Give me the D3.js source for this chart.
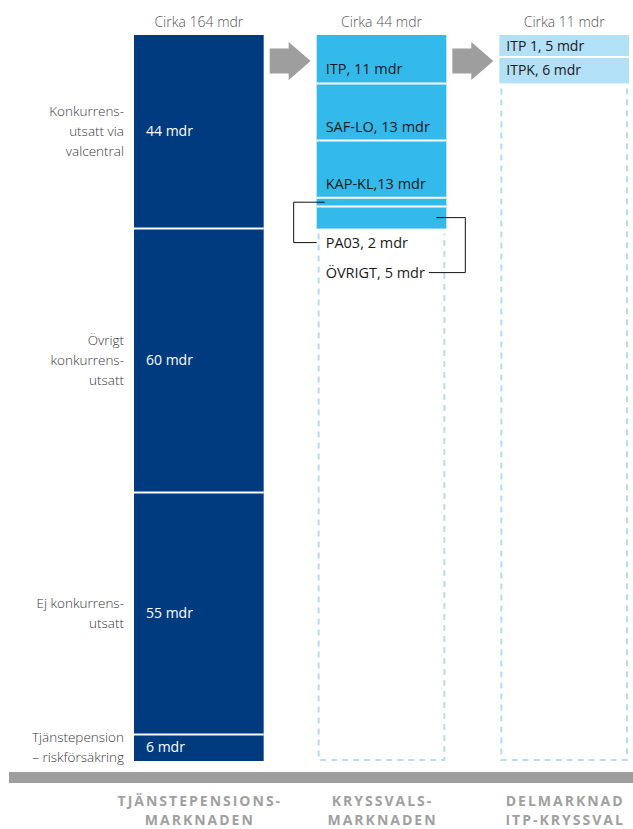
<!DOCTYPE html>
<html><head><meta charset="utf-8">
<script src="https://cdn.jsdelivr.net/npm/d3@7/dist/d3.min.js"></script>
<style>
body{margin:0;background:#fff;}
svg text{font-family:"Open Sans","Noto Sans",sans-serif;}
</style></head>
<body><svg id="c" width="633" height="829"></svg>
<script>
// ---- data ----
const columns = ["TJÄNSTEPENSIONSMARKNADEN","KRYSSVALSMARKNADEN","DELMARKNAD ITP-KRYSSVAL"];
const columnTitles = [["TJÄNSTEPENSIONS-","MARKNADEN"],["KRYSSVALS-","MARKNADEN"],["DELMARKNAD","ITP-KRYSSVAL"]];
const totalLabels = ["Cirka 164 mdr","Cirka 44 mdr","Cirka 11 mdr"];

const col1Categories = [["Konkurrens-","utsatt via","valcentral"],["Övrigt","konkurrens-","utsatt"],["Ej konkurrens-","utsatt"],["Tjänstepension","– riskförsäkring"]];
const col1Values = [44,60,55,6];

const col2Categories = ["ITP","SAF-LO","KAP-KL","PA03","ÖVRIGT"];
const col2Values = [11,13,13,2,5];
const col2Labels = ["ITP, 11 mdr","SAF-LO, 13 mdr","KAP-KL,13 mdr","PA03, 2 mdr","ÖVRIGT, 5 mdr"];

const col3Categories = ["ITP 1","ITPK"];
const col3Values = [5,6];
const col3Labels = ["ITP 1, 5 mdr","ITPK, 6 mdr"];

// ---- layout ----
const svg = d3.select("#c");
const total = d3.sum(col1Values);
const y = d3.scaleLinear().domain([0,total]).range([35,761]);
const x = d3.scaleBand().domain(columns).range([134,629]).paddingInner(0.29);
const bw = x.bandwidth();

const navy = "#003b80", cyan = "#33b9ea", pale = "#b2e0f7", dash = "#b5dcf4";

function stack(vals){let s=0;return vals.map(v=>{const r=[s,s+v];s+=v;return r;});}

// column 1
const s1 = stack(col1Values);
const x1 = x(columns[0]);
svg.append("g").selectAll("rect").data(s1).join("rect")
  .attr("x",x1).attr("width",bw)
  .attr("y",d=>y(d[0])).attr("height",d=>y(d[1])-y(d[0]))
  .attr("fill",navy);
svg.append("g").selectAll("line").data(s1.slice(1)).join("line")
  .attr("x1",x1).attr("x2",x1+bw).attr("y1",d=>y(d[0])).attr("y2",d=>y(d[0]))
  .attr("stroke","#fff").attr("stroke-width",2);
svg.append("g").selectAll("text").data(s1).join("text")
  .attr("x",x1+12).attr("y",d=>(y(d[0])+y(d[1]))/2+4.5)
  .attr("fill","#fff").attr("font-size",14).attr("font-weight",400)
  .text((d,i)=>col1Values[i]+" mdr");
// left category labels
col1Categories.forEach((lines,i)=>{
  const cy=(y(s1[i][0])+y(s1[i][1]))/2;
  const lh=20; const n=lines.length;
  const t=svg.append("text").attr("text-anchor","end").attr("font-size",13.5)
    .attr("font-weight",300).attr("fill","#3a3a3a");
  lines.forEach((l,j)=>t.append("tspan").attr("x",124).attr("y",cy+4.5+(j-(n-1)/2)*lh).text(l));
});

// column 2
const s2 = stack(col2Values);
const x2 = x(columns[1]);
const sum2 = d3.sum(col2Values);
svg.append("g").selectAll("rect").data(s2).join("rect")
  .attr("x",x2).attr("width",bw)
  .attr("y",d=>y(d[0])).attr("height",d=>y(d[1])-y(d[0]))
  .attr("fill",cyan);
svg.append("g").selectAll("line").data(s2.slice(1)).join("line")
  .attr("x1",x2).attr("x2",x2+bw).attr("y1",d=>y(d[0])).attr("y2",d=>y(d[0]))
  .attr("stroke","#fff").attr("stroke-width",2);
svg.append("g").selectAll("text").data(s2.slice(0,3)).join("text")
  .attr("x",x2+9).attr("y",d=>y(d[1])-9)
  .attr("fill","#1a1a1a").attr("font-size",14.5)
  .text((d,i)=>col2Labels[i]);
// dashed remainder
function dashed(xl,top){
  svg.append("path")
    .attr("d",`M${xl+2},${top}V${y(total)-1}H${xl+bw-2}V${top}`)
    .attr("fill","none").attr("stroke",dash).attr("stroke-width",2)
    .attr("stroke-dasharray","6,5");
}
dashed(x2,y(sum2)+5);
// PA03 / ÖVRIGT labels with connectors
const pa = svg.append("text").attr("x",x2+9).attr("y",y(sum2)+14+5)
  .attr("fill","#1a1a1a").attr("font-size",14.5).text(col2Labels[3]);
const ov = svg.append("text").attr("x",x2+9).attr("y",y(sum2)+44+5)
  .attr("fill","#1a1a1a").attr("font-size",14.5).text(col2Labels[4]);
const paMid=(y(s2[3][0])+y(s2[3][1]))/2, ovMid=(y(s2[4][0])+y(s2[4][1]))/2;
svg.append("path").attr("d",`M${x2+8},${paMid}H${x2-23}V${y(sum2)+14}H${x2}`)
  .attr("fill","none").attr("stroke","#111").attr("stroke-width",1);
const ovW = ov.node().getComputedTextLength();
svg.append("path").attr("d",`M${x2+bw-10},${ovMid}H${x2+bw+19}V${y(sum2)+44}H${x2+9+ovW+4}`)
  .attr("fill","none").attr("stroke","#111").attr("stroke-width",1);

// column 3
const s3 = stack(col3Values);
const x3 = x(columns[2]);
const sum3 = d3.sum(col3Values);
svg.append("g").selectAll("rect").data(s3).join("rect")
  .attr("x",x3).attr("width",bw)
  .attr("y",d=>y(d[0])).attr("height",d=>y(d[1])-y(d[0]))
  .attr("fill",pale);
svg.append("g").selectAll("line").data(s3.slice(1)).join("line")
  .attr("x1",x3).attr("x2",x3+bw).attr("y1",d=>y(d[0])).attr("y2",d=>y(d[0]))
  .attr("stroke","#fff").attr("stroke-width",2);
svg.append("g").selectAll("text").data(s3).join("text")
  .attr("x",x3+7).attr("y",d=>(y(d[0])+y(d[1]))/2+5)
  .attr("fill","#1a1a1a").attr("font-size",14)
  .text((d,i)=>col3Labels[i]);
dashed(x3,y(sum3)+5);

// arrows
[[0,1],[1,2]].forEach(([a,b])=>{
  const xs=x(columns[a])+bw+6, xe=x(columns[b])-6, cy=61;
  const hx=xe-22;
  svg.append("path").attr("d",`M${xs},${cy-12.5}H${hx}V${cy-19}L${xe},${cy}L${hx},${cy+19}V${cy+12.5}H${xs}Z`)
    .attr("fill","#9e9e9e");
});

// totals
svg.append("g").selectAll("text").data(columns).join("text")
  .attr("x",d=>x(d)+bw/2).attr("y",27).attr("text-anchor","middle")
  .attr("font-size",14).attr("font-weight",300).attr("fill","#555")
  .text((d,i)=>totalLabels[i]);

// bottom bar
svg.append("rect").attr("x",9).attr("y",772).attr("width",624).attr("height",11).attr("fill","#9d9d9d");
columns.forEach((c,i)=>{
  columnTitles[i].forEach((l,j)=>svg.append("text").attr("text-anchor","middle")
    .attr("font-size",14).attr("letter-spacing",2)
    .attr("font-weight",700).attr("fill","#a0a0a0")
    .attr("x",x(c)+bw/2+1).attr("y",805.5+j*19).text(l));
});
</script></body></html>
